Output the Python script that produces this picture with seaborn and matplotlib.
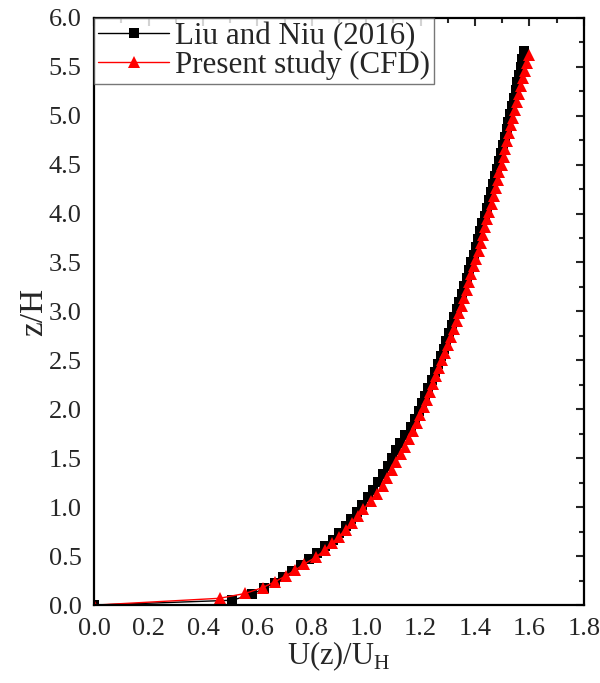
import numpy as np
import matplotlib
matplotlib.use("Agg")
import matplotlib.pyplot as plt
import seaborn as sns
from matplotlib.ticker import MultipleLocator

# Liu and Niu (2016) - black squares
liu_z = [0.0, 0.05, 0.11, 0.17, 0.23, 0.29, 0.35, 0.41, 0.47, 0.53, 0.60, 0.67, 0.74, 0.81,
         0.88, 0.95, 1.02, 1.10, 1.18, 1.26, 1.34, 1.42, 1.50, 1.58, 1.66, 1.74, 1.82, 1.90,
         1.98, 2.06, 2.14, 2.22, 2.30, 2.38, 2.46, 2.54, 2.62, 2.70, 2.78, 2.86, 2.94, 3.02,
         3.10, 3.18, 3.26, 3.34, 3.42, 3.50, 3.58, 3.66, 3.74, 3.82, 3.90, 3.98, 4.06, 4.14,
         4.22, 4.30, 4.38, 4.46, 4.54, 4.62, 4.70, 4.78, 4.86, 4.94, 5.02, 5.10, 5.18, 5.26,
         5.34, 5.42, 5.50, 5.58, 5.66]
liu_u = [0.0, 0.507, 0.580, 0.623, 0.666, 0.695, 0.727, 0.762, 0.790, 0.820, 0.850, 0.877, 0.900, 0.925,
         0.945, 0.965, 0.985, 1.005, 1.025, 1.045, 1.062, 1.079, 1.095, 1.111, 1.126, 1.141, 1.166, 1.180,
         1.193, 1.205, 1.217, 1.229, 1.241, 1.252, 1.263, 1.274, 1.285, 1.295, 1.305, 1.315, 1.324, 1.334,
         1.343, 1.352, 1.361, 1.370, 1.378, 1.387, 1.395, 1.403, 1.411, 1.419, 1.427, 1.435, 1.445, 1.452,
         1.459, 1.466, 1.473, 1.481, 1.488, 1.495, 1.502, 1.509, 1.516, 1.523, 1.530, 1.537, 1.543, 1.549,
         1.556, 1.562, 1.568, 1.574, 1.580]

# Present study (CFD) - red triangles
cfd_z = [0.0, 0.07, 0.12, 0.18, 0.24, 0.30, 0.36, 0.42, 0.49, 0.56, 0.63, 0.70, 0.77, 0.84, 0.91, 0.98,
         1.06, 1.14, 1.22, 1.30, 1.38, 1.46, 1.54, 1.62, 1.70, 1.78, 1.86, 1.94, 2.02, 2.10, 2.18,
         2.26, 2.34, 2.42, 2.50, 2.58, 2.66, 2.74, 2.82, 2.90, 2.98, 3.06, 3.14, 3.22, 3.30, 3.38,
         3.46, 3.54, 3.62, 3.70, 3.78, 3.86, 3.94, 4.02, 4.10, 4.18, 4.26, 4.34, 4.42, 4.50, 4.58,
         4.66, 4.74, 4.82, 4.90, 4.98, 5.06, 5.14, 5.22, 5.30, 5.38, 5.46, 5.54, 5.62]
cfd_u = [0.0, 0.461, 0.556, 0.620, 0.665, 0.705, 0.740, 0.772, 0.815, 0.847, 0.874, 0.899, 0.924, 0.947, 0.969, 0.990,
         1.016, 1.041, 1.060, 1.078, 1.095, 1.111, 1.127, 1.142, 1.156, 1.171, 1.185, 1.198, 1.211, 1.223, 1.235,
         1.247, 1.258, 1.269, 1.280, 1.291, 1.301, 1.312, 1.322, 1.332, 1.341, 1.351, 1.360, 1.369, 1.378, 1.387,
         1.396, 1.404, 1.413, 1.421, 1.429, 1.437, 1.445, 1.453, 1.461, 1.469, 1.476, 1.483, 1.490, 1.498, 1.505,
         1.512, 1.519, 1.526, 1.533, 1.541, 1.548, 1.556, 1.563, 1.570, 1.577, 1.583, 1.590, 1.597]

sns.set_style("white")
plt.rcParams["font.family"] = ["Liberation Serif", "DejaVu Serif"]
plt.rcParams["mathtext.fontset"] = "custom"
plt.rcParams["mathtext.rm"] = "Liberation Serif"

fig = plt.figure(figsize=(6.0, 6.83), dpi=100)
ax = fig.add_axes([0.157, 0.114, 0.816, 0.86])

sns.lineplot(x=liu_u, y=liu_z, sort=False, estimator=None, ax=ax, color="black",
             marker="s", markersize=7, markeredgewidth=0, linewidth=1.0,
             label="Liu and Niu (2016)")
sns.lineplot(x=cfd_u, y=cfd_z, sort=False, estimator=None, ax=ax, color="#ff0000",
             marker="^", markersize=8, markeredgewidth=0, linewidth=1.0,
             label="Present study (CFD)")

ax.set_xlim(0, 1.8)
ax.set_ylim(0, 6.0)
ax.xaxis.set_major_locator(MultipleLocator(0.2))
ax.xaxis.set_minor_locator(MultipleLocator(0.1))
ax.yaxis.set_major_locator(MultipleLocator(0.5))
ax.yaxis.set_minor_locator(MultipleLocator(0.25))
ax.tick_params(which="major", direction="out", length=6, width=1.5, labelsize=19,
               color="black", pad=3)
ax.tick_params(which="minor", direction="out", length=3.5, width=1.5, color="black")
for s in ax.spines.values():
    s.set_visible(True)
    s.set_linewidth(1.6)
    s.set_color("black")

# mirrored ticks on top / right pointing inward
top = ax.secondary_xaxis("top")
top.xaxis.set_major_locator(MultipleLocator(0.2))
top.xaxis.set_minor_locator(MultipleLocator(0.1))
top.tick_params(which="major", direction="in", length=6, width=1.5, labeltop=False)
top.tick_params(which="minor", direction="in", length=3.5, width=1.5)
top.spines["top"].set_visible(False)
right = ax.secondary_yaxis("right")
right.yaxis.set_major_locator(MultipleLocator(0.5))
right.yaxis.set_minor_locator(MultipleLocator(0.25))
right.tick_params(which="major", direction="in", length=6, width=1.5, labelright=False)
right.tick_params(which="minor", direction="in", length=3.5, width=1.5)
right.spines["right"].set_visible(False)

ax.set_xlabel(r"U(z)/U$_\mathrm{H}$", fontsize=22, labelpad=0)
ax.set_ylabel("z/H", fontsize=24, labelpad=0)

leg = ax.legend(loc="upper left", fontsize=22.3, frameon=True, fancybox=False,
                borderaxespad=0, handlelength=2.3, handletextpad=0.2,
                borderpad=0.12, labelspacing=0.0)
leg.get_frame().set_edgecolor("#555555")
leg.get_frame().set_linewidth(1.0)

fig.savefig("out.png", dpi=100)
